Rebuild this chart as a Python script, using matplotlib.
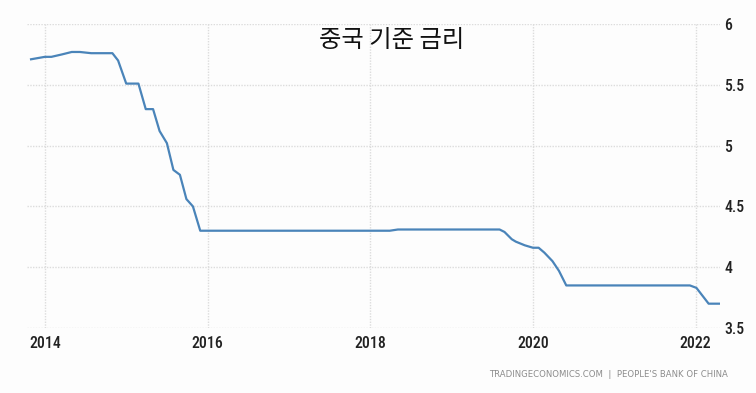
import matplotlib
matplotlib.use('Agg')
import matplotlib.pyplot as plt
from matplotlib import font_manager as fm

# dati (anno decimale, tasso %)
years = [2013.83, 2014.00, 2014.08, 2014.21, 2014.33, 2014.43, 2014.57, 2014.83,
         2014.90, 2015.00, 2015.15, 2015.24, 2015.33, 2015.41, 2015.50, 2015.58,
         2015.66, 2015.74, 2015.82, 2015.91, 2018.24, 2018.34, 2019.59, 2019.65,
         2019.74, 2019.79, 2019.90, 2020.00, 2020.07, 2020.14, 2020.24, 2020.32,
         2020.41, 2021.93, 2022.01, 2022.16, 2022.29]
rates = [5.71, 5.73, 5.73, 5.75, 5.77, 5.77, 5.76, 5.76,
         5.70, 5.51, 5.51, 5.30, 5.30, 5.12, 5.02, 4.80,
         4.76, 4.56, 4.50, 4.30, 4.30, 4.31, 4.31, 4.29,
         4.23, 4.21, 4.18, 4.16, 4.16, 4.12, 4.05, 3.97,
         3.85, 3.85, 3.83, 3.70, 3.70]

x_ticks = [2014, 2016, 2018, 2020, 2022]
y_ticks = [3.5, 4, 4.5, 5, 5.5, 6]
y_labels = ['3.5', '4', '4.5', '5', '5.5', '6']

title = '중국 기준 금리'
source = 'TRADINGECONOMICS.COM  |  PEOPLE\'S BANK OF CHINA'


# cerca un font stretto (un po' piu' pesante) per le etichette degli assi
def narrow_font():
    cands = [('Liberation Sans Narrow', 'normal'), ('Roboto Condensed', 'normal'),
             ('Open Sans Condensed', 'normal'), ('Noto Sans', 'condensed'),
             ('Open Sans', 'condensed'), ('Roboto', 'condensed'),
             ('DejaVu Sans', 'condensed')]
    for w in ['medium', 'semibold', 'normal']:
        for fam, st in cands:
            try:
                path = fm.findfont(fm.FontProperties(family=fam, stretch=st, weight=w),
                                   fallback_to_default=False)
            except ValueError:
                continue
            low = path.lower()
            if not ('condensed' in low or 'narrow' in low):
                continue
            if w != 'normal' and w not in low:
                continue
            return fm.FontProperties(fname=path)
    return None


fig = plt.figure(figsize=(7.56, 3.93), dpi=100, facecolor='#fdfdfd')
ax = fig.add_axes([0.0357, 0.1654, 0.9167, 0.7735])
ax.set_facecolor('#fdfdfd')

ax.plot(years, rates, color='#4a84b9', lw=1.6, solid_joinstyle='round')

ax.set_xlim(2013.78, 2022.30)
ax.set_ylim(3.5, 6)
ax.set_xticks(x_ticks)
ax.set_xticklabels([str(y) for y in x_ticks])
ax.set_yticks(y_ticks)
ax.set_yticklabels(y_labels)

ax.yaxis.tick_right()
ax.tick_params(length=0, colors='#222222', labelsize=11)
ax.tick_params(axis='x', pad=6)
ax.tick_params(axis='y', pad=3)

fp = narrow_font()
for lab in ax.get_xticklabels() + ax.get_yticklabels():
    if fp is not None:
        lab.set_fontproperties(fp)
        lab.set_fontsize(11.3)
    else:
        lab.set_family('Roboto')
        lab.set_fontsize(10)

ax.grid(True, color='#dcdcdc', ls=(0, (1, 1)), lw=1)
for s in ax.spines.values():
    s.set_visible(False)

# titolo dentro l'area del grafico
fig.text(0.518, 0.898, title, ha='center', va='center', fontsize=17.5,
         family=['Noto Sans CJK KR', 'DejaVu Sans'], color='#111111')

# fonte in basso a destra
fig.text(0.963, 0.046, source, ha='right', va='center', fontsize=6.1,
         color='#8c8c8c')

fig.savefig('out.png', dpi=100, facecolor=fig.get_facecolor())
